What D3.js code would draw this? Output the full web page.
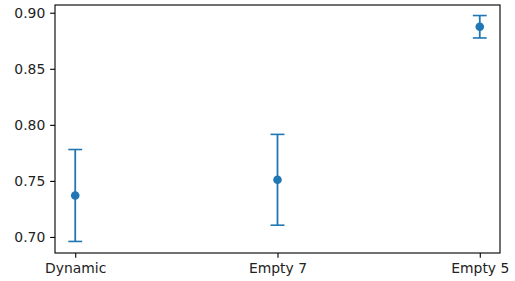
<!DOCTYPE html>
<html>
<head>
<meta charset="utf-8">
<script src="https://cdn.jsdelivr.net/npm/d3@7"></script>
<style>
	body { margin: 0; background: #fff; }
	text { font-family: "DejaVu Sans", sans-serif; }
</style>
</head>
<body>
<div id="chart"></div>
<script>
// values
var categories = ["Dynamic", "Empty 7", "Empty 5"];
var means = [0.737, 0.751, 0.8875];
var errors = [0.041, 0.0405, 0.010];
var yTicks = [0.70, 0.75, 0.80, 0.85, 0.90];

var w = 515,
	h = 281,
	margin = {top: 5, right: 15, bottom: 28, left: 55},
	color = "#1f77b4",
	pt = 1.39; // pixels per point

var svg = d3.select("#chart").append("svg")
	.attr("width", w)
	.attr("height", h);

var x = d3.scaleLinear()
	.domain([-0.1, categories.length - 1 + 0.1])
	.range([margin.left, w - margin.right]);

var y = d3.scaleLinear()
	.domain([0.6857, 0.9069])
	.range([h - margin.bottom, margin.top]);

// axes
var xAxis = d3.axisBottom(x)
	.tickValues(d3.range(categories.length))
	.tickFormat(function(i){ return categories[i]; })
	.tickSize(3.5 * pt)
	.tickPadding(3.5 * pt);

var yAxis = d3.axisLeft(y)
	.tickValues(yTicks)
	.tickFormat(d3.format(".2f"))
	.tickSize(3.5 * pt)
	.tickPadding(3.5 * pt);

var gx = svg.append("g")
	.attr("transform", "translate(0," + (h - margin.bottom) + ")")
	.call(xAxis);

var gy = svg.append("g")
	.attr("transform", "translate(" + margin.left + ",0)")
	.call(yAxis);

[gx, gy].forEach(function(g){
	g.select(".domain").remove();
	g.selectAll(".tick line").attr("stroke", "#000").attr("stroke-width", 0.8 * pt);
	g.selectAll(".tick text")
		.attr("fill", "#222")
		.style("font-size", (10 * pt) + "px");
});

// error bars
var bars = svg.append("g").attr("id", "errorbars");

categories.forEach(function(c, i){
	var cx = x(i),
		lo = y(means[i] - errors[i]),
		hi = y(means[i] + errors[i]),
		cap = 5 * pt;

	bars.append("line")
		.attr("x1", cx).attr("x2", cx)
		.attr("y1", lo).attr("y2", hi)
		.attr("stroke", color)
		.attr("stroke-width", 1.8);

	[lo, hi].forEach(function(cy){
		bars.append("line")
			.attr("x1", cx - cap).attr("x2", cx + cap)
			.attr("y1", cy).attr("y2", cy)
			.attr("stroke", color)
			.attr("stroke-width", 1.6);
	});

	bars.append("circle")
		.attr("cx", cx)
		.attr("cy", y(means[i]))
		.attr("r", 4.3)
		.style("fill", color);
});

// frame
svg.append("rect")
	.attr("x", margin.left)
	.attr("y", margin.top)
	.attr("width", w - margin.left - margin.right)
	.attr("height", h - margin.top - margin.bottom)
	.style("fill", "none")
	.style("stroke", "#000")
	.style("stroke-width", 0.8 * pt);
</script>
</body>
</html>
